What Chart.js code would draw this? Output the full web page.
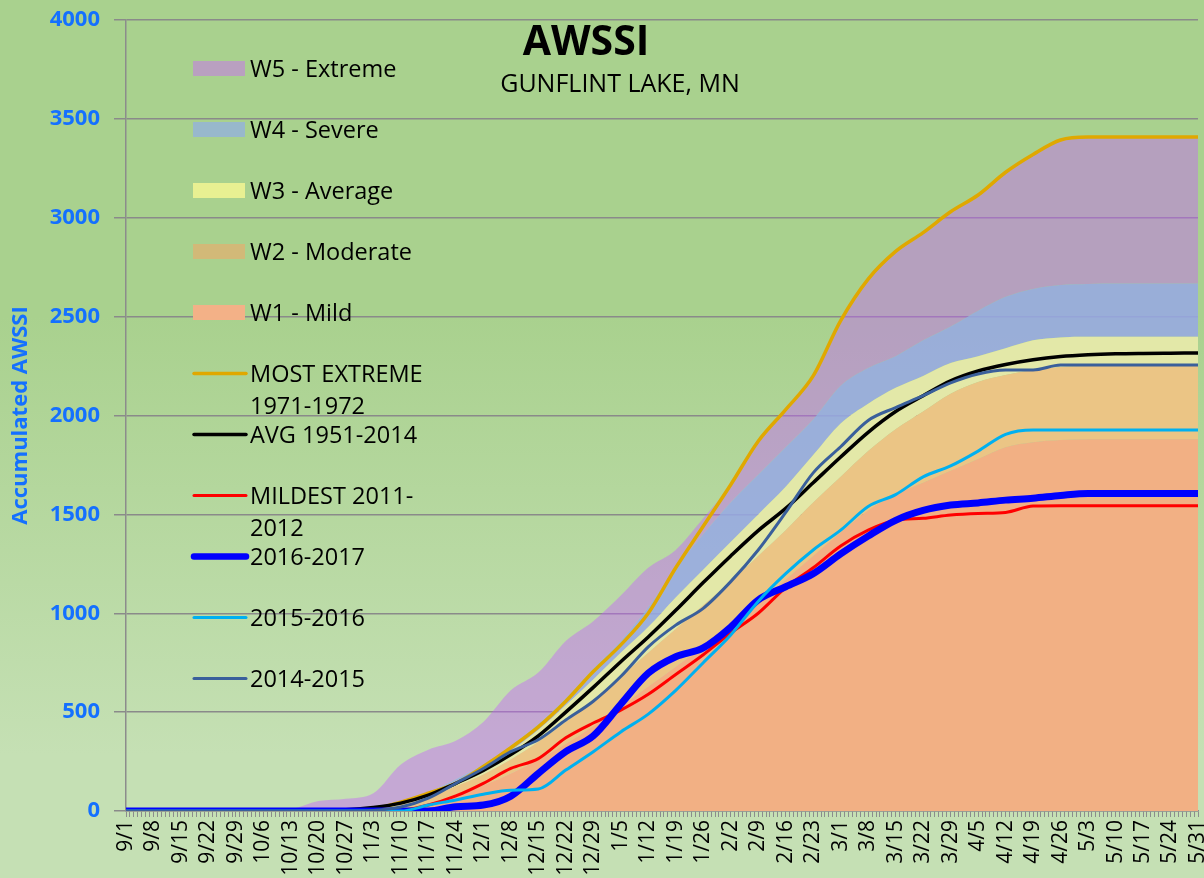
<!DOCTYPE html>
<html lang="en">

<head>
    <meta charset="UTF-8">
    <title>AWSSI | Gunflint Lake, MN</title>
    <script src="https://cdn.jsdelivr.net/npm/chart.js"></script>
    <style>
        html,
        body {
            margin: 0;
            padding: 0;
        }

        body {
            width: 1204px;
            height: 878px;
            overflow: hidden;
            background: linear-gradient(to bottom, #a9d18e 0%, #a9d18e 36%, #c5e0b4 86%, #c5e0b4 100%);
        }

        .chart-box {
            position: relative;
            width: 1204px;
            height: 878px;
        }
    </style>
</head>

<body>

    <div class="chart-box">
        <canvas id="awssiChart"></canvas>
    </div>

    <script>
        // one value per week, 9/1 .. 5/31
        const weekLabels = ['9/1', '9/8', '9/15', '9/22', '9/29', '10/6', '10/13', '10/20', '10/27', '11/3',
            '11/10', '11/17', '11/24', '12/1', '12/8', '12/15', '12/22', '12/29', '1/5', '1/12',
            '1/19', '1/26', '2/2', '2/9', '2/16', '2/23', '3/1', '3/8', '3/15', '3/22',
            '3/29', '4/5', '4/12', '4/19', '4/26', '5/3', '5/10', '5/17', '5/24', '5/31'];
        const yTicks = [0, 500, 1000, 1500, 2000, 2500, 3000, 3500, 4000];

        // category bands (upper edge of each)
        const mildBand = [0, 0, 0, 0, 0, 0, 0, 0, 0, 0, 10, 40, 80, 130, 190, 260, 340, 430, 530, 630,
            730, 830, 940, 1050, 1170, 1290, 1410, 1520, 1600, 1660, 1720, 1780, 1840, 1865, 1876, 1880, 1880, 1880, 1880, 1880];
        const moderateBand = [0, 0, 0, 0, 0, 0, 0, 0, 0, 5, 30, 70, 125, 185, 260, 350, 450, 560, 680, 800,
            920, 1040, 1160, 1290, 1420, 1560, 1690, 1820, 1930, 2020, 2110, 2170, 2205, 2230, 2245, 2250, 2250, 2250, 2250, 2250];
        const averageBand = [0, 0, 0, 0, 0, 0, 0, 0, 2, 12, 45, 90, 150, 220, 305, 410, 535, 665, 800, 930,
            1080, 1220, 1360, 1500, 1640, 1800, 1960, 2060, 2140, 2200, 2265, 2300, 2340, 2380, 2395, 2398, 2398, 2398, 2398, 2398];
        const severeBand = [0, 0, 0, 0, 0, 0, 0, 0, 3, 20, 50, 95, 160, 235, 330, 440, 570, 720, 860, 1030,
            1230, 1400, 1560, 1700, 1840, 1980, 2150, 2240, 2300, 2380, 2450, 2530, 2600, 2640, 2660, 2665, 2667, 2667, 2667, 2667];
        const extremeBand = [0, 0, 0, 0, 0, 0, 8, 50, 62, 90, 235, 310, 355, 450, 610, 700, 860, 960, 1090, 1230,
            1320, 1480, 1650, 1870, 2030, 2200, 2480, 2690, 2830, 2925, 3030, 3115, 3230, 3320, 3393, 3408, 3408, 3408, 3408, 3408];

        // seasons
        const mostExtreme = [0, 0, 0, 0, 0, 0, 0, 0, 2, 12, 45, 90, 140, 225, 320, 425, 555, 705, 840, 1000,
            1230, 1440, 1650, 1870, 2030, 2200, 2480, 2690, 2830, 2925, 3030, 3115, 3230, 3320, 3393, 3408, 3408, 3408, 3408, 3408];
        const avgSeason = [0, 0, 0, 0, 0, 0, 1, 2, 6, 18, 40, 80, 140, 205, 285, 380, 500, 625, 755, 880,
            1015, 1155, 1290, 1418, 1530, 1660, 1790, 1915, 2020, 2100, 2175, 2225, 2258, 2282, 2298, 2307, 2312, 2314, 2315, 2316];
        const mildest = [0, 0, 0, 0, 0, 0, 0, 0, 0, 0, 3, 30, 76, 140, 215, 265, 370, 445, 510, 590,
            690, 790, 900, 1000, 1130, 1230, 1340, 1420, 1470, 1480, 1497, 1505, 1510, 1542, 1544, 1544, 1544, 1544, 1544, 1544];
        const season1617 = [0, 0, 0, 0, 0, 0, 0, 0, 0, 0, 0, 0, 22, 30, 75, 190, 300, 380, 540, 697,
            780, 825, 930, 1067, 1134, 1200, 1300, 1390, 1470, 1520, 1547, 1558, 1572, 1582, 1596, 1606, 1606, 1606, 1606, 1606];
        const season1516 = [0, 0, 0, 0, 0, 0, 0, 0, 0, 0, 0, 30, 56, 85, 105, 111, 207, 300, 400, 490,
            610, 750, 890, 1060, 1200, 1320, 1420, 1540, 1600, 1690, 1745, 1820, 1905, 1927, 1927, 1927, 1927, 1927, 1927, 1927];
        const season1415 = [0, 0, 0, 0, 0, 0, 0, 0, 0, 3, 20, 65, 140, 215, 300, 360, 460, 555, 680, 830,
            940, 1025, 1160, 1320, 1510, 1710, 1842, 1975, 2040, 2100, 2165, 2210, 2230, 2230, 2255, 2255, 2255, 2255, 2255, 2255];

        const blueText = '#1470ff';
        const toPoints = arr => arr.map((v, i) => ({ x: i * 7, y: v }));

        function band(label, data, color, fill) {
            return {
                label: label, data: toPoints(data), backgroundColor: color, borderWidth: 0,
                pointRadius: 0, fill: fill, order: 10, cubicInterpolationMode: 'monotone'
            };
        }

        function season(label, data, color, width, order) {
            return {
                label: label, data: toPoints(data), borderColor: color, borderWidth: width,
                pointRadius: 0, fill: false, order: order, cubicInterpolationMode: 'monotone',
                borderCapStyle: 'round', borderJoinStyle: 'round'
            };
        }

        // legend + title drawn inside the plot, like the original
        const legendRows = [
            { text: ['W5 - Extreme'], box: '#b9a0c0' },
            { text: ['W4 - Severe'], box: '#98b8cc' },
            { text: ['W3 - Average'], box: '#e8f092' },
            { text: ['W2 - Moderate'], box: '#d2b978' },
            { text: ['W1 - Mild'], box: '#f3b187' },
            { text: ['MOST EXTREME', '1971-1972'], line: '#e0a800', width: 3.5 },
            { text: ['AVG 1951-2014'], line: '#000000', width: 3.5 },
            { text: ['MILDEST 2011-', '2012'], line: '#ff0000', width: 3 },
            { text: ['2016-2017'], line: '#0000ff', width: 6.5 },
            { text: ['2015-2016'], line: '#00b0f0', width: 3 },
            { text: ['2014-2015'], line: '#3a5f9b', width: 3 }
        ];

        const insideLegend = {
            id: 'insideLegend',
            afterDraw(chart) {
                const ctx = chart.ctx;
                ctx.save();
                ctx.textAlign = 'left';
                ctx.textBaseline = 'alphabetic';
                ctx.fillStyle = '#000';
                ctx.font = '23.5px "Open Sans"';
                legendRows.forEach((row, i) => {
                    const cy = 68.5 + i * 61;
                    if (row.box) {
                        ctx.fillStyle = row.box;
                        ctx.fillRect(193, cy - 7.5, 52, 15);
                    } else {
                        ctx.strokeStyle = row.line;
                        ctx.lineWidth = row.width;
                        ctx.lineCap = 'round';
                        ctx.beginPath();
                        ctx.moveTo(194, cy);
                        ctx.lineTo(246, cy);
                        ctx.stroke();
                    }
                    ctx.fillStyle = '#000';
                    row.text.forEach((t, j) => ctx.fillText(t, 250, cy + 8 + j * 32.5));
                });

                ctx.textAlign = 'center';
                ctx.font = 'bold 41px "Open Sans"';
                ctx.fillText('AWSSI', 586, 55);
                ctx.font = '25px "Open Sans"';
                ctx.fillText('GUNFLINT LAKE, MN', 620, 92);
                ctx.restore();
            }
        };

        const ctx = document.getElementById('awssiChart').getContext('2d');
        const awssiChart = new Chart(ctx, {
            type: 'line',
            data: {
                datasets: [
                    band('W1 - Mild', mildBand, '#f2b084', 'origin'),
                    band('W2 - Moderate', moderateBand, '#ebc585', '-1'),
                    band('W3 - Average', averageBand, '#e3e8a8', '-1'),
                    band('W4 - Severe', severeBand, 'rgba(151, 168, 229, 0.85)', '-1'),
                    band('W5 - Extreme', extremeBand, 'rgba(197, 96, 255, 0.43)', '-1'),
                    season('MOST EXTREME 1971-1972', mostExtreme, '#e0a800', 3.5, 6),
                    season('AVG 1951-2014', avgSeason, '#000000', 3.5, 5),
                    season('MILDEST 2011-2012', mildest, '#ff0000', 3, 4),
                    season('2016-2017', season1617, '#0000ff', 7, 3),
                    season('2015-2016', season1516, '#00b0f0', 3, 2),
                    season('2014-2015', season1415, '#3a5f9b', 3, 1)
                ]
            },
            options: {
                responsive: true,
                maintainAspectRatio: false,
                animation: false,
                layout: { padding: { top: 20, right: 6, bottom: 0, left: 0 } },
                plugins: {
                    legend: { display: false },
                    tooltip: { enabled: false }
                },
                scales: {
                    x: {
                        type: 'linear',
                        min: 0,
                        max: (weekLabels.length - 1) * 7,
                        afterFit: s => { s.height = 67; s.paddingLeft = 0; s.paddingRight = 0; },
                        grid: { drawOnChartArea: false, drawTicks: true, tickLength: 6, color: '#8c8c8c' },
                        border: { color: '#8c8c8c', width: 1.5 },
                        ticks: {
                            stepSize: 1,
                            autoSkip: false,
                            minRotation: 90,
                            maxRotation: 90,
                            padding: 3,
                            color: '#000',
                            font: { family: 'Open Sans', size: 21 },
                            callback: v => (v % 7 === 0 ? weekLabels[v / 7] : '')
                        }
                    },
                    y: {
                        min: yTicks[0],
                        max: yTicks[yTicks.length - 1],
                        afterFit: s => { s.width = 126; s.paddingTop = 0; s.paddingBottom = 0; },
                        afterBuildTicks: s => { s.ticks = yTicks.map(v => ({ value: v })); },
                        grid: { color: '#8a8a8a', lineWidth: 1.5, tickLength: 12 },
                        border: { color: '#8c8c8c', width: 1.5 },
                        ticks: {
                            padding: 14,
                            color: blueText,
                            font: { family: 'Open Sans', size: 22, weight: 'bold' },
                            callback: v => String(v)
                        },
                        title: {
                            display: true,
                            text: 'Accumulated AWSSI',
                            color: blueText,
                            font: { family: 'Open Sans', size: 22, weight: 'bold' },
                            padding: { top: 8, bottom: 0 }
                        }
                    }
                }
            },
            plugins: [insideLegend]
        });
    </script>

</body>

</html>
